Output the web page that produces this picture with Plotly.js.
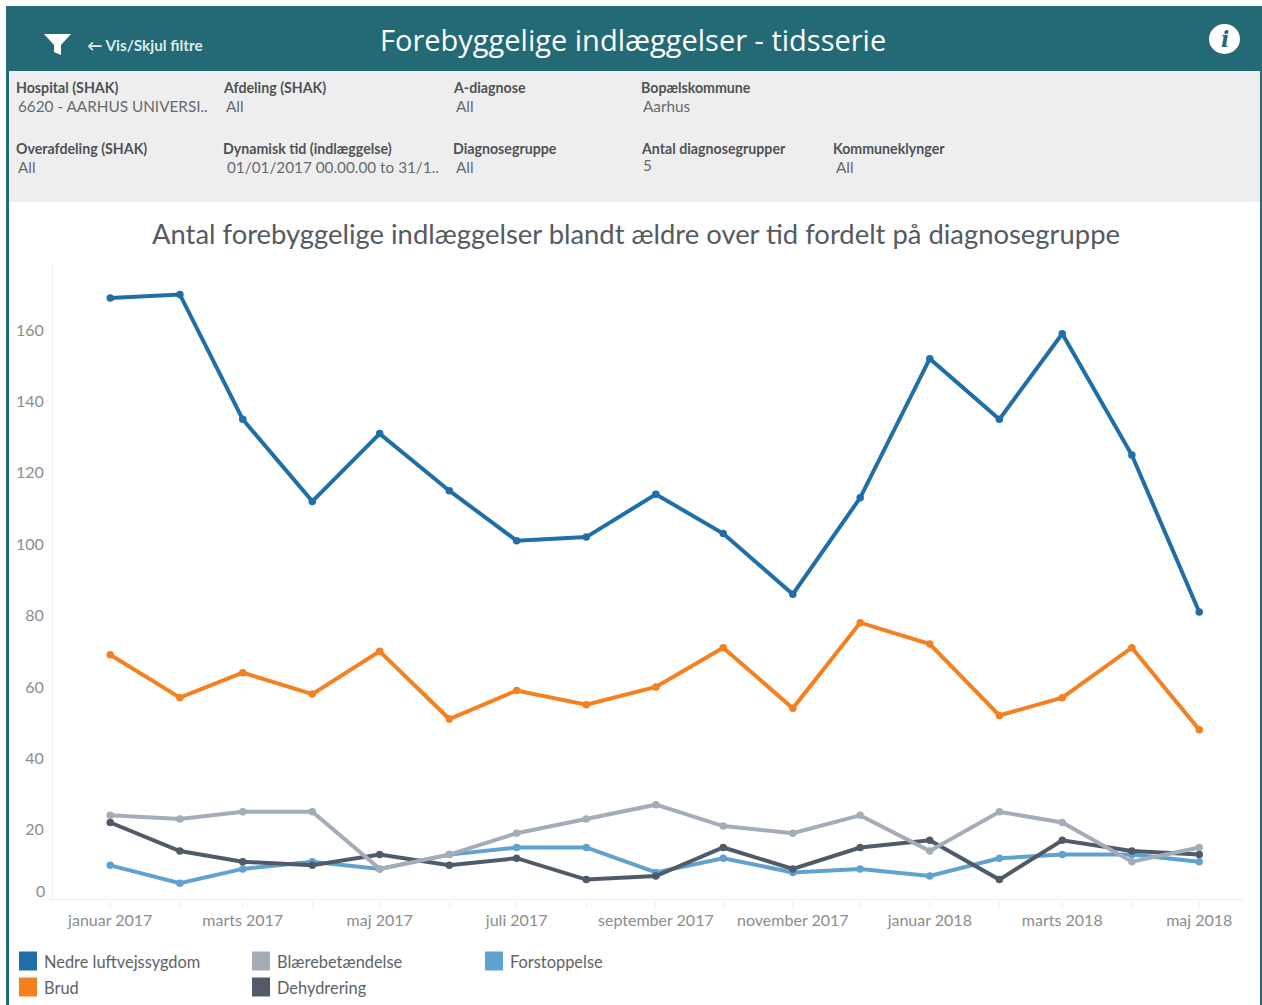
<!DOCTYPE html>
<html>
<head>
<meta charset="utf-8">
<script src="https://cdn.plot.ly/plotly-3.0.1.min.js"></script>
<style>html,body{margin:0;padding:0;background:#fff;overflow:hidden}#chart{width:1262px;height:1005px}</style>
</head>
<body>
<div id="chart"></div>
<script>
var months = ["2017-01-01","2017-02-01","2017-03-01","2017-04-01","2017-05-01","2017-06-01","2017-07-01","2017-08-01","2017-09-01","2017-10-01","2017-11-01","2017-12-01","2018-01-01","2018-02-01","2018-03-01","2018-04-01","2018-05-01"];
var monthLabels = ["januar 2017","","marts 2017","","maj 2017","","juli 2017","","september 2017","","november 2017","","januar 2018","","marts 2018","","maj 2018"];
var nedre = [169,170,135,112,131,115,101,102,114,103,86,113,152,135,159,125,81];
var brud = [69,57,64,58,70,51,59,55,60,71,54,78,72,52,57,71,48];
var blaere = [24,23,25,25,9,13,19,23,27,21,19,24,14,25,22,11,15];
var forstoppelse = [10,5,9,11,9,13,15,15,8,12,8,9,7,12,13,13,11];
var dehydrering = [22,14,11,10,13,10,12,6,7,15,9,15,17,6,17,14,13];
var yTicks = [0,20,40,60,80,100,120,140,160];
var yLabels = ["","20","40","60","80","100","120","140","160"];

var W = 1262, H = 1005;
var m = {l:53, r:19, t:262, b:104};
var pw = W - m.l - m.r, ph = H - m.t - m.b;
function X(p){ return (p - m.l) / pw; }
function Y(p){ return 1 - (p - m.t) / ph; }

var FONT = "Lato, 'Open Sans', sans-serif";
var colors = {nedre:"#1f6ea8", brud:"#f5801f", blaere:"#a5acb9", forstoppelse:"#5fa2d0", dehydrering:"#515a69"};

function series(name, y, c, w){
  return {type:"scatter", mode:"lines+markers", name:name, x:months, y:y,
          line:{color:c, width:w, shape:"linear"}, marker:{color:c, size:7.5}, hoverinfo:"x+y+name"};
}
var traces = [
  series("Forstoppelse", forstoppelse, colors.forstoppelse, 4),
  series("Dehydrering", dehydrering, colors.dehydrering, 4),
  series("Blærebetændelse", blaere, colors.blaere, 4),
  series("Brud", brud, colors.brud, 4),
  series("Nedre luftvejssygdom", nedre, colors.nedre, 4)
];

function rect(x0,y0,x1,y1,c){
  return {type:"rect", xref:"paper", yref:"paper", x0:X(x0), x1:X(x1), y0:Y(y0), y1:Y(y1),
          fillcolor:c, line:{width:0}, layer:"below"};
}
function txt(t,px,py,size,color,anchor,extra){
  var a = {text:t, xref:"paper", yref:"paper", x:X(px), y:Y(py), showarrow:false,
           xanchor:anchor||"left", yanchor:"middle", font:{family:FONT,size:size,color:color}};
  if(extra) for(var k in extra) a[k]=extra[k];
  return a;
}
var teal = "#246a76";
var shapes = [
  rect(6,6,1262,71,teal),
  rect(9,71,1260,202,"#eeeeee"),
  rect(6,71,9,1005,teal),
  rect(1260,71,1262,1005,teal),
  {type:"path", xref:"paper", yref:"paper", layer:"above", line:{width:0}, fillcolor:"#ffffff",
   path:"M"+X(44)+" "+Y(34)+" L"+X(71)+" "+Y(34)+" L"+X(61)+" "+Y(45)+" L"+X(61)+" "+Y(55)+" L"+X(54)+" "+Y(52)+" L"+X(54)+" "+Y(45)+" Z"},
  {type:"circle", xref:"paper", yref:"paper", layer:"above", line:{width:0}, fillcolor:"#ffffff",
   x0:X(1209), x1:X(1240), y0:Y(24), y1:Y(54)}
];

var dark = "#4f5358", mid = "#666a70";
function lab(t,px,py){ return txt("<b>"+t+"</b>",px-2,py,14.2,dark,"left"); }
function val(t,px,py){ return txt(t,px-2,py-1,15.3,mid,"left"); }
var anns = [
  txt("<b>← Vis/Skjul filtre</b>",85,45,15.3,"#dfe9ea","left"),
  txt("Forebyggelige indlæggelser - tidsserie",633,40,29,"#ffffff","center",{font:{family:"'Open Sans',sans-serif",size:29,color:"#ffffff"}}),
  txt("<b><i>i</i></b>",1224.5,39,24,teal,"center",{font:{family:"'DejaVu Serif',serif",size:22,color:teal}}),
  txt("Antal forebyggelige indlæggelser blandt ældre over tid fordelt på diagnosegruppe",636,233,27.4,"#555a60","center"),

  lab("Hospital (SHAK)",16,87),
  val("6620 - AARHUS UNIVERSI..",18,107),
  lab("Afdeling (SHAK)",223,87),
  val("All",226,107),
  lab("A-diagnose",453,87),
  val("All",456,107),
  lab("Bopælskommune",641,87),
  val("Aarhus",643,107),
  lab("Overafdeling (SHAK)",16,149),
  val("All",18,168),
  lab("Dynamisk tid (indlæggelse)",223,149),
  val("01/01/2017 00.00.00 to 31/1..",227,168),
  lab("Diagnosegruppe",453,149),
  val("All",456,168),
  lab("Antal diagnosegrupper",641,148),
  val("5",643,166),
  lab("Kommuneklynger",833,149),
  val("All",836,168),

  txt("0",40,890,16,"#8c8c8c","center")
];

var legendItems = [
  ["Nedre luftvejssygdom", colors.nedre, 19, 961],
  ["Brud", colors.brud, 19, 987],
  ["Blærebetændelse", colors.blaere, 252, 961],
  ["Dehydrering", colors.dehydrering, 252, 987],
  ["Forstoppelse", colors.forstoppelse, 485, 961]
];
legendItems.forEach(function(it){
  shapes.push(rect(it[2], it[3]-9.5, it[2]+18, it[3]+9.5, it[1]));
  anns.push(txt(it[0], it[2]+23, it[3], 16.4, "#5e6268", "left"));
});

var layout = {
  width:W, height:H, margin:{l:m.l, r:m.r, t:m.t, b:m.b, pad:0, autoexpand:false},
  paper_bgcolor:"#ffffff", plot_bgcolor:"#ffffff", showlegend:false, hovermode:"closest",
  font:{family:FONT},
  xaxis:{type:"date", range:["2016-12-06 12:00","2018-05-20 12:00"], tickmode:"array", tickvals:months, ticktext:monthLabels,
         ticks:"outside", ticklen:5, tickcolor:"#ececec", tickwidth:1, showgrid:false, zeroline:false,
         showline:false, tickangle:0, tickfont:{family:FONT,size:16,color:"#8c8c8c"}},
  yaxis:{range:[0,179.1], tickmode:"array", tickvals:yTicks, ticktext:yLabels, ticks:"", showgrid:false,
         zeroline:false, showline:true, linecolor:"#f2f2f2", linewidth:1, ticklabelstandoff:5,
         tickfont:{family:FONT,size:16,color:"#8c8c8c"}},
  shapes:shapes.concat([
    {type:"line", xref:"paper", yref:"paper", x0:X(49), x1:X(1243), y0:Y(899.5), y1:Y(899.5), line:{color:"#ececec",width:1}, layer:"below"}
  ]),
  annotations:anns
};
Plotly.newPlot("chart", traces, layout, {displayModeBar:false, responsive:false});
</script>
</body>
</html>
